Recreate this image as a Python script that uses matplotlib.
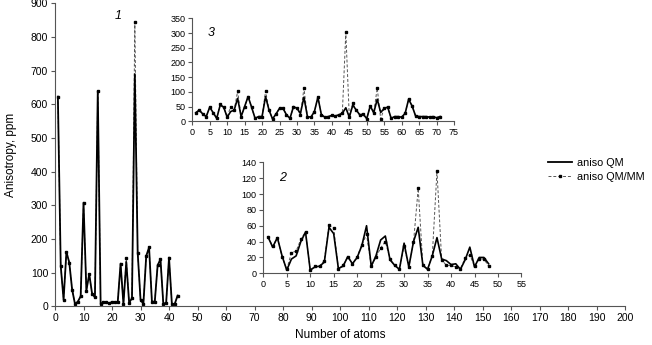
import matplotlib.pyplot as plt
import numpy as np

plt.rcParams['font.family'] = ['Liberation Sans', 'DejaVu Sans']

# panel 1 (main)
atoms1 = np.arange(1, 44)
qmmm1 = [623, 120, 20, 162, 130, 50, 7, 14, 30, 308, 47, 96, 38, 27, 640, 7, 12, 12, 9, 13,
         13, 12, 127, 7, 143, 11, 24, 845, 160, 20, 7, 150, 175, 14, 14, 122, 140, 7, 11, 145,
         7, 7, 32]
qm1 = [623, 120, 20, 162, 130, 50, 7, 14, 30, 308, 47, 96, 38, 27, 640, 7, 12, 12, 9, 13,
       13, 12, 127, 7, 132, 11, 24, 690, 160, 20, 7, 150, 175, 14, 14, 122, 140, 7, 11, 145,
       7, 7, 32]

# panel 2 (inset, lower)
atoms2 = np.arange(1, 49)
qmmm2 = [46, 34, 45, 21, 5, 26, 28, 43, 52, 4, 9, 9, 16, 61, 57, 6, 10, 21, 12, 21,
         36, 49, 9, 20, 32, 40, 18, 10, 5, 34, 8, 39, 107, 10, 6, 22, 129, 17, 10, 10,
         8, 6, 19, 23, 9, 18, 18, 9]
qm2 = [46, 33, 45, 22, 4, 18, 22, 40, 52, 4, 8, 9, 14, 58, 50, 6, 9, 21, 12, 20,
       35, 60, 9, 22, 42, 47, 17, 10, 5, 38, 8, 40, 58, 10, 5, 22, 45, 18, 16, 11,
       12, 5, 17, 33, 8, 20, 20, 12]

# panel 3 (inset, upper)
atoms3 = np.arange(1, 72)
qmmm3 = [29, 38, 25, 16, 48, 29, 10, 59, 48, 14, 50, 38, 102, 16, 50, 84, 48, 10, 16, 16,
         103, 38, 8, 25, 44, 44, 22, 10, 50, 44, 22, 112, 16, 14, 33, 82, 22, 14, 16, 20,
         18, 22, 27, 302, 14, 61, 38, 22, 24, 9, 52, 29, 113, 8, 44, 48, 10, 16, 16, 14,
         27, 75, 52, 18, 16, 16, 16, 14, 16, 12, 16]
qm3 = [29, 38, 25, 16, 48, 29, 10, 55, 48, 14, 33, 38, 78, 16, 50, 84, 48, 10, 16, 16,
       84, 38, 8, 25, 44, 44, 22, 10, 50, 44, 27, 82, 16, 14, 33, 82, 22, 14, 16, 20,
       18, 22, 27, 46, 14, 55, 38, 22, 24, 9, 52, 29, 75, 30, 44, 48, 10, 16, 16, 14,
       27, 75, 52, 18, 16, 16, 16, 14, 16, 12, 16]

fig = plt.figure(figsize=(6.52, 3.45), dpi=100)


def style(ax, fs):
    for s in ['top', 'right']:
        ax.spines[s].set_visible(False)
    for s in ['left', 'bottom']:
        ax.spines[s].set_color('#555555')
        ax.spines[s].set_linewidth(0.8)
    ax.tick_params(direction='out', length=3, width=0.8, color='#555555', labelsize=fs, pad=2)
    ax.set_facecolor('none')


def draw(ax, x, qm, qmmm, lw=1.3):
    ax.plot(x, qmmm, color='#555555', lw=0.7, ls=(0, (3, 2)), marker='s', ms=1.8,
            mfc='black', mec='black', label='aniso QM/MM', zorder=2)
    ax.plot(x, qm, color='black', lw=lw, label='aniso QM', zorder=3)


ax = fig.add_axes([0.0844, 0.112, 0.8742, 0.878])
draw(ax, atoms1, qm1, qmmm1)
ax.set_xlim(0, 200)
ax.set_ylim(0, 900)
ax.set_xticks(np.arange(0, 201, 10))
ax.set_yticks(np.arange(0, 901, 100))
style(ax, 7.5)
ax.set_xlabel('Number of atoms', fontsize=8.5, labelpad=4)
ax.set_ylabel('Anisotropy, ppm', fontsize=8.5, labelpad=10)
ax.text(0.105, 0.95, '1', transform=ax.transAxes, fontsize=9, style='italic')

h_mm, h_qm = ax.get_legend_handles_labels()[0]
fig.legend([h_qm, h_mm], ['aniso QM', 'aniso QM/MM'], loc='upper left',
           bbox_to_anchor=(0.834, 0.555), frameon=False, fontsize=7.8,
           handlelength=2.2, handletextpad=0.5, labelspacing=0.35, borderaxespad=0)

ax3 = fig.add_axes([0.2949, 0.6484, 0.4014, 0.2986])
draw(ax3, atoms3, qm3, qmmm3, lw=1.2)
ax3.set_xlim(0, 75)
ax3.set_ylim(0, 350)
ax3.set_xticks(np.arange(0, 76, 5))
ax3.set_yticks(np.arange(0, 351, 50))
style(ax3, 6.5)
ax3.text(0.06, 0.83, '3', transform=ax3.transAxes, fontsize=9, style='italic')

ax2 = fig.add_axes([0.4038, 0.2078, 0.3960, 0.3218])
draw(ax2, atoms2, qm2, qmmm2, lw=1.2)
ax2.set_xlim(0, 55)
ax2.set_ylim(0, 140)
ax2.set_xticks(np.arange(0, 56, 5))
ax2.set_yticks(np.arange(0, 141, 20))
style(ax2, 6.5)
ax2.text(0.06, 0.83, '2', transform=ax2.transAxes, fontsize=9, style='italic')

plt.savefig('out.png', dpi=100)
